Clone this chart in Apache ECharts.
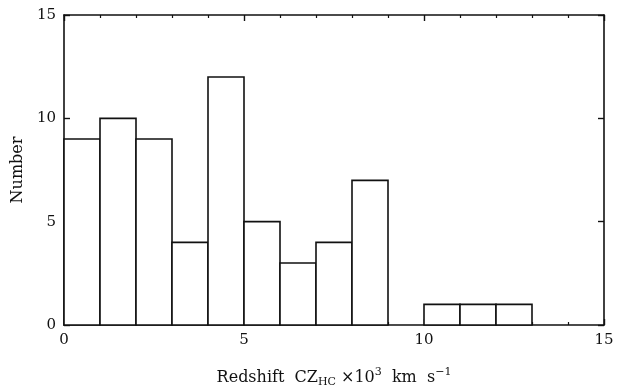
<!DOCTYPE html>
<html>
<head>
<meta charset="utf-8">
<script src="https://cdn.jsdelivr.net/npm/echarts@6/dist/echarts.min.js"></script>
<style>
  html, body { margin: 0; padding: 0; background: #fff; }
  #chart { width: 621px; height: 389px; }
</style>
</head>
<body>
<div id="chart"></div>
<script>
// Histogram of redshifts, bins of 1000 km/s
const binStarts = [0, 1, 2, 3, 4, 5, 6, 7, 8, 9, 10, 11, 12];
const counts    = [9, 10, 9, 4, 12, 5, 3, 4, 7, 0, 1, 1, 1];
const binWidth = 1;
const xTicks = [0, 5, 10, 15];
const yTicks = [0, 5, 10, 15];

const FONT = 'DejaVu Serif';
const INK = '#111';

const chart = echarts.init(document.getElementById('chart'));

const bins = binStarts.map((s, i) => [s, s + binWidth, counts[i]]);

const tickStyle = { inside: true, length: 6, lineStyle: { color: INK, width: 1.4 } };
const minorStyle = { show: true, splitNumber: 5, length: 3, lineStyle: { color: INK, width: 1.2 } };

function frameAxis(extra) {
  return Object.assign({
    type: 'value',
    min: 0, max: 15, interval: 5,
    axisLine: { show: true, onZero: false, lineStyle: { color: INK, width: 1.6 } },
    splitLine: { show: false },
    axisTick: tickStyle,
    axisLabel: { show: false }
  }, extra);
}

chart.setOption({
  animation: false,
  backgroundColor: '#fff',
  grid: { left: 64, right: 17, top: 15, bottom: 64, containLabel: false, outerBoundsMode: 'none' },
  xAxis: [
    frameAxis({
      position: 'bottom',
      minorTick: minorStyle,
      axisLabel: { show: true, color: INK, fontFamily: FONT, fontSize: 15, margin: 8,
        customValues: xTicks },
      name: '{a|Redshift  CZ}{sub|HC}{a| ×10}{sup|3}{a|  km  s}{sup|−1}',
      nameLocation: 'middle', nameGap: 42,
      nameTextStyle: {
        color: INK, fontFamily: FONT,
        rich: {
          a: { fontFamily: FONT, fontSize: 16, color: INK },
          sub: { fontFamily: FONT, fontSize: 11, color: INK, padding: [9, 0, 0, 0] },
          sup: { fontFamily: FONT, fontSize: 11, color: INK, padding: [0, 0, 10, 0] }
        }
      }
    }),
    frameAxis({ position: 'top', minorTick: minorStyle })
  ],
  yAxis: [
    frameAxis({
      position: 'left',
      axisLabel: { show: true, color: INK, fontFamily: FONT, fontSize: 15, margin: 8, customValues: yTicks },
      name: 'Number', nameLocation: 'middle', nameGap: 30, nameRotate: 90,
      nameTextStyle: { color: INK, fontFamily: FONT, fontSize: 16 }
    }),
    frameAxis({ position: 'right' })
  ],
  series: [{
    type: 'custom',
    xAxisIndex: 0, yAxisIndex: 0,
    data: bins,
    encode: { x: [0, 1], y: 2 },
    renderItem: function (params, api) {
      const h = api.value(2);
      if (!h) return null;
      const p0 = api.coord([api.value(0), h]);
      const p1 = api.coord([api.value(1), 0]);
      return {
        type: 'rect',
        shape: { x: p0[0], y: p0[1], width: p1[0] - p0[0], height: p1[1] - p0[1] },
        style: { fill: '#fff', stroke: INK, lineWidth: 1.6 }
      };
    }
  }]
});
</script>
</body>
</html>
